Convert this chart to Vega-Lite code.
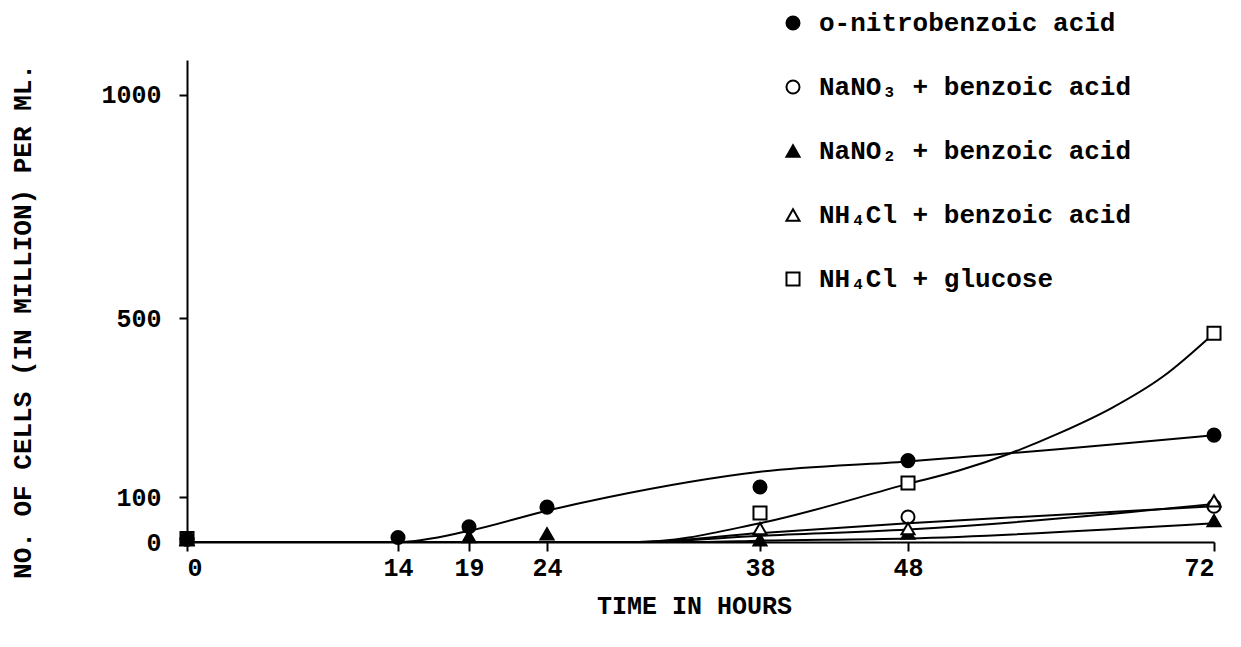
{
  "$schema": "https://vega.github.io/schema/vega-lite/v6.json",
  "autosize": {"type": "none"},
  "width": 1027,
  "height": 482,
  "padding": {"left": 187, "top": 60, "right": 27, "bottom": 105},
  "background": "white",
  "config": {
    "view": {"stroke": null},
    "font": "Liberation Mono",
    "axis": {
      "labelFont": "Liberation Mono",
      "titleFont": "Liberation Mono",
      "labelFontWeight": "bold",
      "titleFontWeight": "bold",
      "labelColor": "black",
      "titleColor": "black",
      "domainColor": "black",
      "tickColor": "black",
      "domainWidth": 2,
      "tickWidth": 2,
      "grid": false
    },
    "legend": {
      "labelFont": "Liberation Mono",
      "labelFontWeight": "bold",
      "labelColor": "black",
      "title": null,
      "orient": "none",
      "legendX": 593,
      "legendY": -50,
      "labelFontSize": 26,
      "rowPadding": 38,
      "symbolSize": 170,
      "symbolStrokeWidth": 2,
      "labelOffset": 13,
      "labelLimit": 600
    }
  },
  "datasets": {
    "points": [
      {"series": "NH₄Cl + glucose", "hour": 0, "cells": 8},
      {"series": "NH₄Cl + benzoic acid", "hour": 0, "cells": 6},
      {"series": "NaNO₃ + benzoic acid", "hour": 0, "cells": 6},
      {"series": "NaNO₂ + benzoic acid", "hour": 0, "cells": 5},
      {"series": "o-nitrobenzoic acid", "hour": 0, "cells": 8},
      {"series": "o-nitrobenzoic acid", "hour": 14, "cells": 10},
      {"series": "o-nitrobenzoic acid", "hour": 19, "cells": 34},
      {"series": "o-nitrobenzoic acid", "hour": 24, "cells": 78},
      {"series": "o-nitrobenzoic acid", "hour": 38, "cells": 123},
      {"series": "o-nitrobenzoic acid", "hour": 48, "cells": 182},
      {"series": "o-nitrobenzoic acid", "hour": 72, "cells": 239},
      {"series": "NaNO₃ + benzoic acid", "hour": 48, "cells": 56},
      {"series": "NaNO₃ + benzoic acid", "hour": 72, "cells": 80},
      {"series": "NaNO₂ + benzoic acid", "hour": 19, "cells": 12},
      {"series": "NaNO₂ + benzoic acid", "hour": 24, "cells": 18},
      {"series": "NaNO₂ + benzoic acid", "hour": 38, "cells": 5},
      {"series": "NaNO₂ + benzoic acid", "hour": 48, "cells": 20},
      {"series": "NaNO₂ + benzoic acid", "hour": 72, "cells": 48},
      {"series": "NH₄Cl + benzoic acid", "hour": 38, "cells": 30},
      {"series": "NH₄Cl + benzoic acid", "hour": 48, "cells": 30},
      {"series": "NH₄Cl + benzoic acid", "hour": 72, "cells": 92},
      {"series": "NH₄Cl + glucose", "hour": 38, "cells": 65},
      {"series": "NH₄Cl + glucose", "hour": 48, "cells": 132},
      {"series": "NH₄Cl + glucose", "hour": 72, "cells": 467}
    ],
    "curves": [
      {"series": "o-nitrobenzoic acid", "hour": 0, "cells": 0},
      {"series": "o-nitrobenzoic acid", "hour": 14, "cells": 0},
      {"series": "o-nitrobenzoic acid", "hour": 19, "cells": 25},
      {"series": "o-nitrobenzoic acid", "hour": 24, "cells": 70},
      {"series": "o-nitrobenzoic acid", "hour": 28, "cells": 100},
      {"series": "o-nitrobenzoic acid", "hour": 38, "cells": 157},
      {"series": "o-nitrobenzoic acid", "hour": 48, "cells": 180},
      {"series": "o-nitrobenzoic acid", "hour": 72, "cells": 239},
      {"series": "NaNO₃ + benzoic acid", "hour": 0, "cells": 0},
      {"series": "NaNO₃ + benzoic acid", "hour": 30, "cells": 0},
      {"series": "NaNO₃ + benzoic acid", "hour": 38, "cells": 20},
      {"series": "NaNO₃ + benzoic acid", "hour": 48, "cells": 42},
      {"series": "NaNO₃ + benzoic acid", "hour": 72, "cells": 80},
      {"series": "NaNO₂ + benzoic acid", "hour": 0, "cells": 0},
      {"series": "NaNO₂ + benzoic acid", "hour": 34, "cells": 0},
      {"series": "NaNO₂ + benzoic acid", "hour": 38, "cells": 3},
      {"series": "NaNO₂ + benzoic acid", "hour": 48, "cells": 8},
      {"series": "NaNO₂ + benzoic acid", "hour": 72, "cells": 42},
      {"series": "NH₄Cl + benzoic acid", "hour": 0, "cells": 0},
      {"series": "NH₄Cl + benzoic acid", "hour": 30, "cells": 0},
      {"series": "NH₄Cl + benzoic acid", "hour": 38, "cells": 14},
      {"series": "NH₄Cl + benzoic acid", "hour": 48, "cells": 28},
      {"series": "NH₄Cl + benzoic acid", "hour": 72, "cells": 85},
      {"series": "NH₄Cl + glucose", "hour": 0, "cells": 0},
      {"series": "NH₄Cl + glucose", "hour": 30, "cells": 0},
      {"series": "NH₄Cl + glucose", "hour": 38, "cells": 42},
      {"series": "NH₄Cl + glucose", "hour": 48, "cells": 130},
      {"series": "NH₄Cl + glucose", "hour": 52, "cells": 160},
      {"series": "NH₄Cl + glucose", "hour": 56, "cells": 198},
      {"series": "NH₄Cl + glucose", "hour": 60, "cells": 245},
      {"series": "NH₄Cl + glucose", "hour": 64, "cells": 300},
      {"series": "NH₄Cl + glucose", "hour": 68, "cells": 370},
      {"series": "NH₄Cl + glucose", "hour": 72, "cells": 467}
    ]
  },
  "layer": [
    {
      "data": {"name": "curves"},
      "mark": {"type": "line", "interpolate": "monotone", "color": "black", "strokeWidth": 2},
      "encoding": {
        "x": {
          "field": "hour", "type": "quantitative",
          "scale": {"domain": [0, 14, 19, 24, 38, 48, 72], "range": [0, 211, 282, 360, 573, 721, 1027], "nice": false, "zero": false},
          "axis": {
            "title": "TIME IN HOURS",
            "values": [0, 14, 19, 24, 38, 48, 72],
            "tickSize": 9,
            "labelPadding": 4,
            "labelFontSize": 25,
            "titleFontSize": 25,
            "titleX": 507,
            "titleY": 63,
            "titleBaseline": "middle",
            "titleAnchor": "start",
            "titleAlign": "center"
          }
        },
        "y": {
          "field": "cells", "type": "quantitative",
          "scale": {"domain": [0, 1078], "nice": false},
          "axis": {
            "title": "NO. OF CELLS (IN MILLION) PER ML.",
            "values": [0, 100, 500, 1000],
            "format": "d",
            "tickSize": 8,
            "labelPadding": 18,
            "labelFontSize": 25,
            "titleFontSize": 26,
            "titleAngle": -90,
            "titleX": -165,
            "titleY": 261,
            "titleAlign": "center",
            "titleBaseline": "middle",
            "titleAnchor": "start"
          }
        },
        "detail": {"field": "series"}
      }
    },
    {
      "data": {"name": "points"},
      "mark": {"type": "point", "filled": false, "strokeWidth": 2, "opacity": 1, "size": 170},
      "encoding": {
        "x": {"field": "hour", "type": "quantitative"},
        "y": {"field": "cells", "type": "quantitative"},
        "shape": {
          "field": "series", "type": "nominal",
          "scale": {
            "domain": ["o-nitrobenzoic acid", "NaNO₃ + benzoic acid", "NaNO₂ + benzoic acid", "NH₄Cl + benzoic acid", "NH₄Cl + glucose"],
            "range": ["circle", "circle", "triangle-up", "triangle-up", "square"]
          },
          "legend": {"title": null}
        },
        "fill": {
          "field": "series", "type": "nominal",
          "scale": {
            "domain": ["o-nitrobenzoic acid", "NaNO₃ + benzoic acid", "NaNO₂ + benzoic acid", "NH₄Cl + benzoic acid", "NH₄Cl + glucose"],
            "range": ["black", "white", "black", "white", "white"]
          },
          "legend": {"title": null}
        },
        "stroke": {
          "field": "series", "type": "nominal",
          "scale": {
            "domain": ["o-nitrobenzoic acid", "NaNO₃ + benzoic acid", "NaNO₂ + benzoic acid", "NH₄Cl + benzoic acid", "NH₄Cl + glucose"],
            "range": ["black", "black", "black", "black", "black"]
          },
          "legend": {"title": null}
        }
      }
    }
  ]
}
